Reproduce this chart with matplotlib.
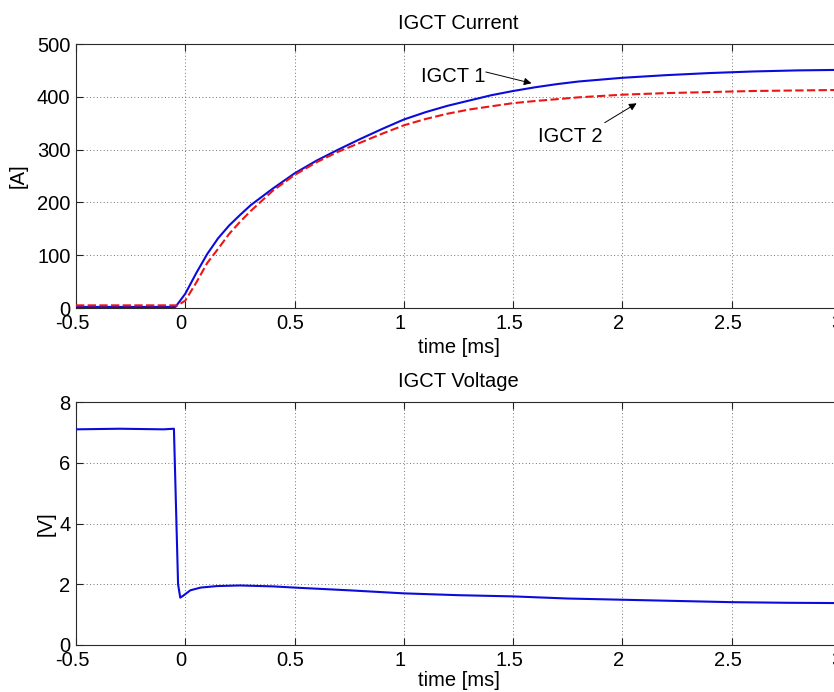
import matplotlib
matplotlib.use("Agg")
import matplotlib.pyplot as plt
from matplotlib.transforms import ScaledTranslation

plt.rcParams['font.family'] = ['Liberation Sans', 'DejaVu Sans']

# ---- data ----
t_igct1 = [-0.5, -0.2, -0.045, 0.0, 0.05, 0.1, 0.15, 0.2, 0.25, 0.3, 0.4, 0.5,
           0.6, 0.7, 0.8, 0.9, 1.0, 1.1, 1.2, 1.3, 1.4, 1.5, 1.6, 1.7, 1.8,
           2.0, 2.2, 2.4, 2.6, 2.8, 3.0]
i_igct1 = [2, 2, 2, 27, 66, 102, 132, 156, 176, 195, 226, 255,
           279, 300, 320, 339, 357, 371, 383, 393, 403, 411, 418, 424, 429,
           436, 441, 445, 448, 450, 451]

t_igct2 = [-0.5, -0.2, -0.035, 0.0, 0.05, 0.1, 0.15, 0.2, 0.25, 0.3, 0.4, 0.5,
           0.6, 0.7, 0.8, 0.9, 1.0, 1.1, 1.2, 1.3, 1.4, 1.5, 1.6, 1.8,
           2.0, 2.2, 2.4, 2.6, 2.8, 3.0]
i_igct2 = [5, 5, 5, 14, 48, 85, 112, 140, 163, 184, 222, 252,
           276, 296, 313, 330, 346, 358, 368, 376, 382, 388, 392, 399,
           404, 407, 409, 411, 412, 413]

t_volt = [-0.5, -0.3, -0.1, -0.052, -0.033, -0.023, -0.01, 0.023, 0.07, 0.145,
          0.25, 0.4, 0.5, 0.75, 1.0, 1.25, 1.5, 1.75, 2.0, 2.25, 2.5, 2.75, 3.0]
v_volt = [7.10, 7.12, 7.10, 7.12, 2.0, 1.56, 1.62, 1.80, 1.89, 1.94,
          1.96, 1.93, 1.89, 1.80, 1.70, 1.64, 1.60, 1.53, 1.49, 1.45, 1.41, 1.39, 1.38]

x_ticks = [-0.5, 0, 0.5, 1, 1.5, 2, 2.5, 3]
x_ticklabels = ['-0.5', '0', '0.5', '1', '1.5', '2', '2.5', '3']
cur_ticks = [0, 100, 200, 300, 400, 500]
volt_ticks = [0, 2, 4, 6, 8]

BLUE = '#0b0bdc'
RED = '#ec1515'
FS = 14.5

W, H = 834, 692
fig = plt.figure(figsize=(W / 100, H / 100), dpi=100)

def px_axes(left, top, right, bottom):
    return fig.add_axes([left / W, 1 - bottom / H, (right - left) / W, (bottom - top) / H])

ax1 = px_axes(76, 44, 841, 308)
ax2 = px_axes(76, 402, 841, 645)

def style(ax, yticks, ylim, title, ylabel, ylab_x, tbase_px, axh_px):
    ax.set_xlim(-0.5, 3)
    ax.set_ylim(*ylim)
    ax.set_xticks(x_ticks)
    ax.set_xticklabels(x_ticklabels)
    ax.set_yticks(yticks)
    ax.tick_params(direction='in', top=True, right=True, length=5, width=0.8,
                   labelsize=FS, pad=4, colors='#222222', labelcolor='black')
    shift = ScaledTranslation(-4 / 100, 0, fig.dpi_scale_trans)
    for lab in ax.get_xticklabels():
        lab.set_transform(lab.get_transform() + shift)
    ax.grid(True, linestyle=(0, (1, 2.5)), linewidth=0.7, color='0.45')
    for s in ax.spines.values():
        s.set_color('#2a2a2a')
        s.set_linewidth(0.8)
    ax.set_title(title, fontsize=FS, pad=11)
    ax.set_ylabel(ylabel, fontsize=FS)
    ax.yaxis.set_label_coords(ylab_x, 0.5)
    ax.set_xlabel('time [ms]', fontsize=FS, va='baseline')
    ax.xaxis.set_label_coords(0.5, -tbase_px / axh_px)

ax1.plot(t_igct1, i_igct1, color=BLUE, lw=1.5, zorder=3)
ax1.plot(t_igct2, i_igct2, color=RED, lw=1.5, dashes=(4, 1.6), zorder=3)
style(ax1, cur_ticks, (0, 500), 'IGCT Current', '[A]', (28 - 76) / 765, 45, 264)

ax1.text(1.224, 428.6, 'IGCT 1', fontsize=FS, ha='center', va='baseline')
ax1.annotate('', xy=(1.584, 425.6), xytext=(1.375, 447),
             arrowprops=dict(arrowstyle='-|>', color='black', lw=0.7,
                             mutation_scale=11, shrinkA=0, shrinkB=0))
ax1.text(1.759, 315, 'IGCT 2', fontsize=FS, ha='center', va='baseline')
ax1.annotate('', xy=(2.065, 387.7), xytext=(1.919, 351),
             arrowprops=dict(arrowstyle='-|>', color='black', lw=0.7,
                             mutation_scale=11, shrinkA=0, shrinkB=0))

ax2.plot(t_volt, v_volt, color=BLUE, lw=1.5, zorder=3)
style(ax2, volt_ticks, (0, 8), 'IGCT Voltage', '[V]', (55.5 - 76) / 765, 41, 243)

fig.savefig('out.png', dpi=100)
